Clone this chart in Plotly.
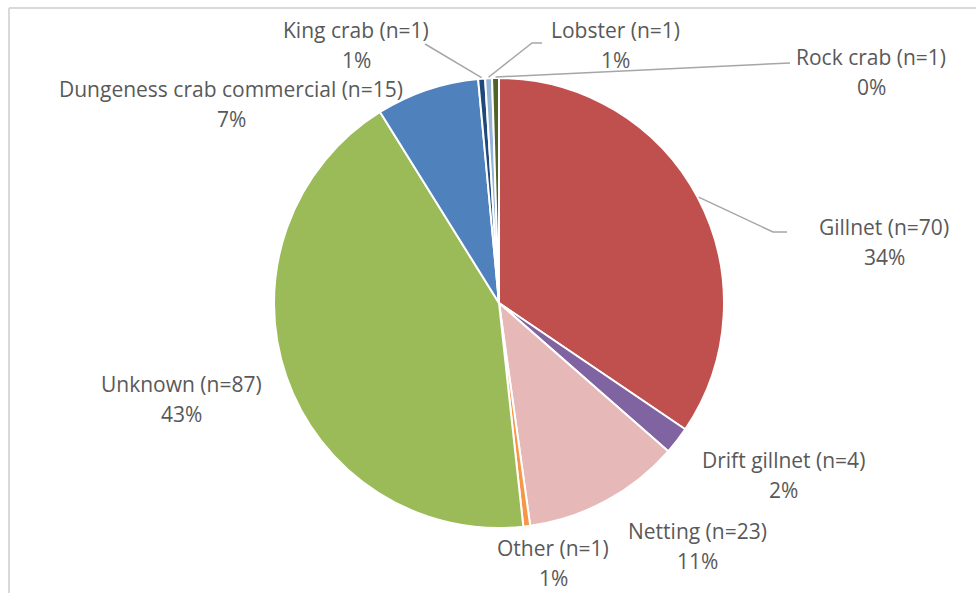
import math
import plotly.graph_objects as go

# ---- data ----
categories = ["Gillnet", "Drift gillnet", "Netting", "Other", "Unknown",
              "Dungeness crab commercial", "King crab", "Lobster", "Rock crab"]
counts = [70, 4, 23, 1, 87, 15, 1, 1, 1]
pct_labels = ["34%", "2%", "11%", "1%", "43%", "7%", "1%", "1%", "0%"]

colors = ["#C0504D", "#8064A2", "#E6B9B8", "#F79646", "#9BBB59",
          "#4F81BD", "#1F497D", "#95B3D7", "#4F6228"]

W, H = 976, 593
CX, CY, R = 499, 303, 225

# label centre positions (px): (x, y of name line, y of percent line)
label_pos = {
    "Gillnet": (884, 227, 257),
    "Drift gillnet": (783, 460, 490),
    "Netting": (697, 531, 561),
    "Other": (553, 548, 578),
    "Unknown": (181, 384, 414),
    "Dungeness crab commercial": (231, 89, 119),
    "King crab": (356, 30, 60),
    "Lobster": (615, 30, 60),
    "Rock crab": (871, 57, 87),
}
# leader line outer points (px), ending at the slice edge
leader_pts = {
    "Gillnet": [(787, 232), (773, 232)],
    "King crab": [(425, 44)],
    "Lobster": [(542, 43), (532, 43)],
    "Rock crab": [(790, 63)],
}

def px(x):
    return x / W

def py(y):
    return 1 - y / H

fig = go.Figure(go.Pie(
    labels=[f"{c} (n={n})" for c, n in zip(categories, counts)],
    values=counts,
    sort=False,
    direction="clockwise",
    rotation=0,
    textinfo="none",
    hoverinfo="label+percent",
    marker=dict(colors=colors, line=dict(color="white", width=2)),
    domain=dict(x=[px(CX - R), px(CX + R)], y=[py(CY + R), py(CY - R)]),
    showlegend=False,
))

font = dict(family="Open Sans, Calibri, sans-serif", size=21, color="#595959")
annotations = []
for c, n, p in zip(categories, counts, pct_labels):
    x, y1, y2 = label_pos[c]
    annotations.append(dict(x=px(x), y=py(y1), xref="paper", yref="paper",
                            text=f"{c} (n={n})", showarrow=False, font=font,
                            xanchor="center", yanchor="middle"))
    annotations.append(dict(x=px(x), y=py(y2), xref="paper", yref="paper",
                            text=p, showarrow=False, font=font,
                            xanchor="center", yanchor="middle"))

# leader lines: inner end computed from slice mid-angle
total = sum(counts)
cum = 0
mid_angle = {}
for c, n in zip(categories, counts):
    mid_angle[c] = (cum + n / 2) / total * 2 * math.pi
    cum += n

shapes = []
for c, pts in leader_pts.items():
    a = mid_angle[c]
    ex, ey = CX + (R + 1) * math.sin(a), CY - (R + 1) * math.cos(a)
    path_pts = pts + [(ex, ey)]
    d = "M " + " L ".join(f"{px(x):.5f},{py(y):.5f}" for x, y in path_pts)
    shapes.append(dict(type="path", path=d, xref="paper", yref="paper",
                       line=dict(color="#A6A6A6", width=1.5)))

# chart area border (left and top)
shapes.append(dict(type="line", xref="paper", yref="paper",
                   x0=px(9), x1=px(9), y0=0, y1=py(8),
                   line=dict(color="#D9D9D9", width=2)))
shapes.append(dict(type="line", xref="paper", yref="paper",
                   x0=px(9), x1=1, y0=py(8), y1=py(8),
                   line=dict(color="#D9D9D9", width=2)))

fig.update_layout(
    width=W, height=H,
    margin=dict(l=0, r=0, t=0, b=0),
    paper_bgcolor="white", plot_bgcolor="white",
    annotations=annotations, shapes=shapes,
)
fig.write_html("out.html",
               config={"displayModeBar": False},
               post_script="document.body.style.margin='0';document.body.style.overflow='hidden';")
